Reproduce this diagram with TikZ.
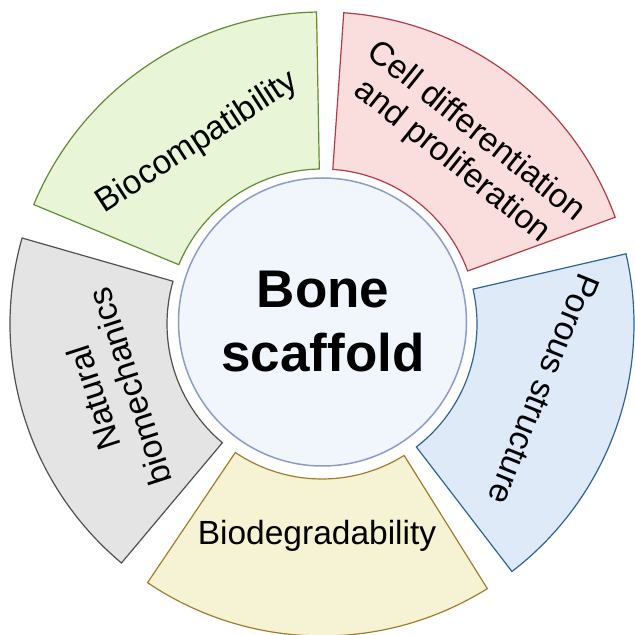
\documentclass[tikz,border=0pt]{standalone}
\usepackage{fontspec}
\setmainfont{Liberation Sans}
\definecolor{gfill}{HTML}{E9F5D7}\definecolor{gline}{HTML}{628C32}
\definecolor{rfill}{HTML}{FADEDE}\definecolor{rline}{HTML}{AF3C46}
\definecolor{bfill}{HTML}{DEEAF8}\definecolor{bline}{HTML}{2D6496}
\definecolor{yfill}{HTML}{F5F3D4}\definecolor{yline}{HTML}{A07D2D}
\definecolor{kfill}{HTML}{E4E4E4}\definecolor{kline}{HTML}{505050}
\definecolor{cfill}{HTML}{F1F5FC}\definecolor{cline}{HTML}{8C9BC8}
\newcommand\drawsector[4]{%
  \draw[sectorbox,draw=#3,fill=#4] ([shift={(#1:312)}]C) arc[start angle=#1,end angle=#2,radius=312]
    -- ([shift={(#2:155)}]C) arc[start angle=#2,end angle=#1,radius=155] -- cycle;}
\begin{document}
\begin{tikzpicture}[x=1pt,y=1pt,
  sectorbox/.style={line width=1.2pt,line join=miter},
  lbl/.style={align=center,inner sep=0pt,font=\fontsize{33.5}{38}\selectfont},
  ttl/.style={inner sep=0pt,anchor=base,font=\fontsize{53}{60}\selectfont\bfseries}]
\useasboundingbox (0,0) rectangle (635,635);
\coordinate (C) at (322,311);
\drawsector{20}{86}{rline}{rfill}
\drawsector{91}{157.5}{gline}{gfill}
\drawsector{164}{230}{kline}{kfill}
\drawsector{236}{302}{yline}{yfill}
\drawsector{307.5}{373}{bline}{bfill}
\node[circle,draw=cline,fill=cfill,line width=1.5pt,minimum size=288pt,inner sep=0pt] (core) at (322.5,313) {};
\node[ttl] (t1) at (323,327) {Bone};
\node[ttl] (t2) at (323,263.3) {scaffold};
\node[lbl,rotate=33] (lg) at ([shift={(124.5:220)}]C) {Biocompatibility};
\node[lbl,rotate=-38.7] (lr) at ([shift={(51.3:227)}]C) {Cell differentiation\\and proliferation};
\node[lbl,rotate=108] (lk) at ([shift={(198:221)}]C) {Natural\\biomechanics};
\node[lbl,rotate=-112] (lb) at ([shift={(343.6:231)}]C) {Porous structure};
\node[lbl,anchor=base] (ly) at (317,90) {Biodegradability};
\end{tikzpicture}
\end{document}
